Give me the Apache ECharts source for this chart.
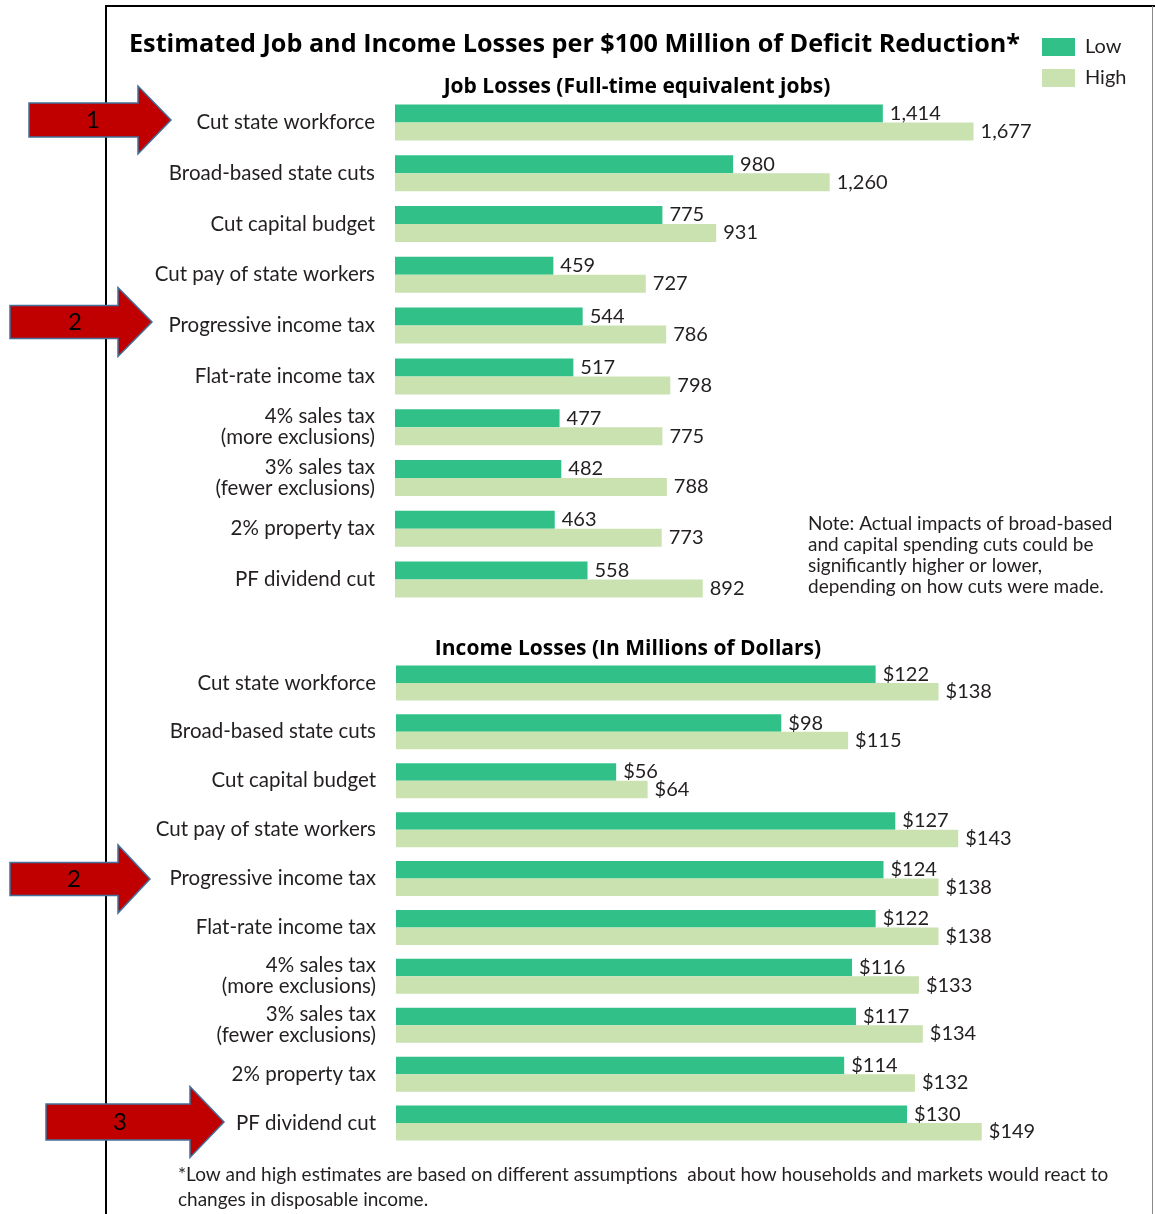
<!DOCTYPE html>
<html>
<head>
<meta charset="utf-8">
<script src="https://cdn.jsdelivr.net/npm/echarts@6/dist/echarts.min.js"></script>
<style>
  html, body { margin: 0; padding: 0; background: #fff; }
  #chart { width: 1155px; height: 1214px; }
</style>
</head>
<body>
<div id="chart"></div>
<script>
// categories (same for both panels)
const categories = [
  "Cut state workforce",
  "Broad-based state cuts",
  "Cut capital budget",
  "Cut pay of state workers",
  "Progressive income tax",
  "Flat-rate income tax",
  "4% sales tax\n(more exclusions)",
  "3% sales tax\n(fewer exclusions)",
  "2% property tax",
  "PF dividend cut"
];
// job losses (FTE jobs)
const jobLow = [1414, 980, 775, 459, 544, 517, 477, 482, 463, 558];
const jobHigh = [1677, 1260, 931, 727, 786, 798, 775, 788, 773, 892];
// income losses ($ millions)
const incLow = [122, 98, 56, 127, 124, 122, 116, 117, 114, 130];
const incHigh = [138, 115, 64, 143, 138, 138, 133, 134, 132, 149];

const C_LOW = "#30c088";
const C_HIGH = "#cae2b0";
const FONT = "Lato";
const BOLD = "Open Sans";
const TXT = "#231f20";

const chart = echarts.init(document.getElementById("chart"));

function catAxis(idx) {
  return {
    type: "category",
    gridIndex: idx,
    data: categories,
    inverse: true,
    axisLine: { show: false },
    axisTick: { show: false },
    axisLabel: {
      margin: 20,
      color: TXT,
      fontFamily: FONT,
      fontSize: 20.5,
      lineHeight: 21,
      align: "right"
    }
  };
}

function valAxis(idx, max) {
  return {
    type: "value",
    gridIndex: idx,
    min: 0,
    max: max,
    show: false,
    splitLine: { show: false }
  };
}

function barSeries(name, data, idx, color, fmt, bw) {
  return {
    name: name,
    type: "bar",
    xAxisIndex: idx,
    yAxisIndex: idx,
    data: data,
    barWidth: bw,
    barGap: "0%",
    itemStyle: { color: color },
    label: {
      show: true,
      position: "right",
      distance: 7,
      color: TXT,
      fontFamily: FONT,
      fontSize: 20,
      formatter: p => fmt(p.value)
    },
    animation: false
  };
}

const jobFmt = v => v.toLocaleString("en-US");
const incFmt = v => "$" + v;

// red numbered arrows on the left
function arrow(x0, x1, tip, cy, bodyH, headH, num, tx) {
  const b = bodyH / 2, h = headH / 2;
  return [
    {
      type: "polygon",
      shape: {
        points: [
          [x0, cy - b], [x1, cy - b], [x1, cy - h], [tip, cy],
          [x1, cy + h], [x1, cy + b], [x0, cy + b]
        ]
      },
      style: { fill: "#c00000", stroke: "#41719c", lineWidth: 1.5 },
      z: 10
    },
    {
      type: "text",
      x: tx,
      y: cy,
      style: {
        text: num, fill: "#000", font: "24px " + FONT,
        align: "center", verticalAlign: "middle"
      },
      z: 11
    }
  ];
}

const option = {
  animation: false,
  backgroundColor: "#fff",
  title: [
    {
      text: "Estimated Job and Income Losses per $100 Million of Deficit Reduction*",
      left: 129, top: 32, padding: 0,
      textStyle: { fontFamily: BOLD, fontWeight: "bold", fontSize: 25.2, color: "#000" }
    },
    {
      text: "Job Losses (Full-time equivalent jobs)",
      left: 637, top: 77, padding: 0, textAlign: "center",
      textStyle: { fontFamily: BOLD, fontWeight: "bold", fontSize: 21, color: "#000" }
    },
    {
      text: "Income Losses (In Millions of Dollars)",
      left: 628, top: 639, padding: 0, textAlign: "center",
      textStyle: { fontFamily: BOLD, fontWeight: "bold", fontSize: 21, color: "#000" }
    },
    {
      text: "Note: Actual impacts of broad-based\nand capital spending cuts could be\nsignificantly higher or lower,\ndepending on how cuts were made.",
      left: 808, top: 514, padding: 0,
      textStyle: { fontFamily: FONT, fontWeight: "normal", fontSize: 19, lineHeight: 20.7, color: TXT }
    },
    {
      text: "*Low and high estimates are based on different assumptions  about how households and markets would react to\nchanges in disposable income.",
      left: 178, top: 1162, padding: 0,
      textStyle: { fontFamily: FONT, fontWeight: "normal", fontSize: 19, lineHeight: 25, color: TXT }
    }
  ],
  legend: {
    orient: "vertical",
    left: 1042, top: 37, padding: 0,
    itemWidth: 33, itemHeight: 18, itemGap: 11,
    icon: "rect",
    data: ["Low", "High"],
    textStyle: { fontFamily: FONT, fontSize: 20, color: TXT, padding: [0, 0, 0, 5] }
  },
  grid: [
    { left: 395, top: 97, width: 690, height: 508 },
    { left: 396, top: 658.5, width: 688, height: 489 }
  ],
  xAxis: [valAxis(0, 2000), valAxis(1, 175)],
  yAxis: [catAxis(0), catAxis(1)],
  series: [
    barSeries("Low", jobLow, 0, C_LOW, jobFmt, 18),
    barSeries("High", jobHigh, 0, C_HIGH, jobFmt, 18),
    barSeries("Low", incLow, 1, C_LOW, incFmt, 17.5),
    barSeries("High", incHigh, 1, C_HIGH, incFmt, 17.5)
  ],
  graphic: [
    // frame
    { type: "line", shape: { x1: 105, y1: 6, x2: 1155, y2: 6 }, style: { stroke: "#000", lineWidth: 2 } },
    { type: "line", shape: { x1: 106, y1: 5, x2: 106, y2: 1214 }, style: { stroke: "#000", lineWidth: 2 } },
    { type: "line", shape: { x1: 1152.5, y1: 6, x2: 1152.5, y2: 1214 }, style: { stroke: "#888", lineWidth: 1 } },
    ...arrow(29, 138, 171, 120, 34, 68, "1", 93),
    ...arrow(10, 118, 152, 322, 33, 69, "2", 75),
    ...arrow(10, 118, 150, 879, 33, 68, "2", 74),
    ...arrow(46, 190, 224, 1122, 36, 71, "3", 120)
  ]
};

chart.setOption(option);
</script>
</body>
</html>
